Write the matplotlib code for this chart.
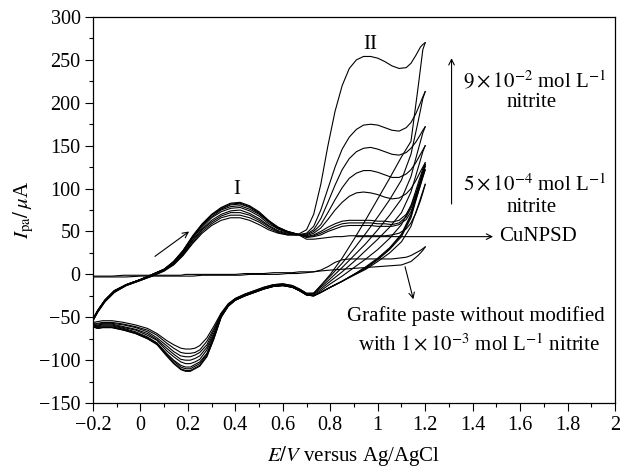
import matplotlib
matplotlib.use('Agg')
import matplotlib.pyplot as plt
from matplotlib.ticker import MultipleLocator, FuncFormatter

plt.rcParams['font.family'] = ['Liberation Serif', 'DejaVu Serif']
plt.rcParams['mathtext.fontset'] = 'stix'

# potential grids (V vs Ag/AgCl): forward scan -0.2 -> 1.2, reverse scan 1.2 -> -0.2
E_FWD = [-0.20, -0.18, -0.15, -0.11, -0.06, 0.00, 0.05, 0.10, 0.14, 0.18, 0.22, 0.26, 0.30, 0.34,
         0.38, 0.42, 0.46, 0.50, 0.54, 0.58, 0.62, 0.66,
         0.70, 0.73, 0.76, 0.79, 0.82, 0.85, 0.88, 0.91, 0.94, 0.97, 1.00, 1.03, 1.06, 1.09,
         1.12, 1.14, 1.16, 1.18, 1.19, 1.20]
E_REV = [1.20, 1.19, 1.17, 1.14, 1.10, 1.05, 1.00, 0.95, 0.90, 0.85, 0.80, 0.76, 0.73,
         0.70, 0.67, 0.64, 0.60, 0.56, 0.52, 0.48, 0.44, 0.40, 0.37, 0.34, 0.31, 0.28, 0.25,
         0.23, 0.21, 0.19, 0.17, 0.14, 0.11, 0.07, 0.03, -0.02, -0.07, -0.12, -0.16, -0.18, -0.20]

# CuNPSD electrode, no nitrite
cunpsd_fwd = [-52, -42, -30, -19, -12, -6, 0, 6, 15, 28, 45, 59, 70, 78, 83, 84, 80, 73, 63, 55, 50, 47,
              41, 41, 42, 43, 44, 44, 45, 45, 45, 45, 45, 45, 46, 48, 53, 60, 71, 86, 95, 105]
cunpsd_rev = [105, 97, 80, 56, 38, 25, 15, 6, -1, -8, -15, -21, -25,
              -24, -19, -15, -13, -14, -17, -21, -25, -30, -37, -49, -73, -93, -104, -107,
              -110, -110, -108, -101, -93, -80, -74, -68, -64, -61, -61, -62, -60]

# CuNPSD + nitrite, increasing concentration (5e-4 ... 9e-2 mol/L)
nit1_fwd = [-52, -42, -30, -19, -12, -6, 0, 6, 15, 27, 44, 58, 69, 76, 81, 82, 78, 71, 62, 54, 50, 47,
            43, 44, 46, 50, 53, 56, 57, 57, 57, 57, 56, 56, 56, 58, 64, 73, 87, 104, 113, 122]
nit1_rev = [122, 114, 95, 66, 44, 29, 17, 7, 0, -8, -15, -21, -25,
            -24, -19, -15, -13, -14, -17, -21, -25, -30, -37, -50, -75, -96, -107, -110,
            -113, -113, -111, -104, -95, -82, -75, -69, -65, -62, -62, -63, -61]

nit2_fwd = [-52, -42, -30, -19, -12, -6, 0, 6, 15, 28, 44, 58, 69, 77, 82, 83, 79, 72, 62, 55, 50, 47,
            44, 45, 48, 52, 56, 59, 60, 60, 60, 60, 59, 59, 58, 60, 67, 77, 91, 108, 117, 126]
nit2_rev = [126, 118, 99, 68, 46, 30, 18, 8, 0, -8, -15, -21, -25,
            -24, -19, -15, -13, -14, -17, -21, -25, -30, -37, -50, -74, -95, -106, -109,
            -112, -112, -110, -103, -94, -81, -75, -69, -65, -62, -62, -63, -61]

nit3_fwd = [-52, -42, -30, -19, -12, -6, 0, 6, 14, 27, 43, 57, 67, 75, 79, 80, 76, 70, 61, 53, 49, 47,
            44, 46, 50, 55, 59, 62, 63, 63, 63, 63, 62, 62, 61, 63, 70, 80, 94, 110, 119, 128]
nit3_rev = [128, 120, 101, 70, 47, 31, 19, 9, 0, -8, -15, -21, -25,
            -24, -19, -15, -13, -14, -17, -21, -25, -30, -36, -49, -72, -92, -102, -105,
            -108, -108, -106, -100, -92, -80, -73, -67, -63, -60, -60, -61, -60]

nit4_fwd = [-53, -43, -31, -20, -12, -6, -1, 5, 14, 26, 42, 55, 66, 73, 77, 78, 74, 68, 59, 53, 49, 47,
            45, 48, 54, 64, 75, 84, 91, 95, 96, 95, 93, 90, 88, 89, 94, 100, 109, 120, 125, 130]
nit4_rev = [130, 123, 106, 80, 58, 42, 29, 18, 8, -2, -11, -19, -24,
            -23, -18, -14, -12, -13, -16, -20, -24, -29, -36, -48, -70, -88, -99, -102,
            -104, -104, -102, -96, -89, -77, -71, -65, -62, -59, -59, -60, -59]

nit5_fwd = [-53, -43, -31, -20, -12, -6, -1, 5, 13, 25, 40, 53, 63, 70, 74, 75, 71, 65, 57, 51, 48, 46,
            46, 50, 58, 72, 87, 101, 112, 118, 121, 121, 119, 116, 113, 113, 117, 122, 130, 140, 145, 150]
nit5_rev = [150, 143, 124, 96, 72, 55, 41, 28, 15, 3, -8, -17, -23,
            -23, -18, -14, -12, -13, -16, -20, -24, -29, -36, -48, -68, -85, -95, -98,
            -100, -100, -99, -93, -86, -76, -69, -64, -61, -58, -58, -59, -59]

nit6_fwd = [-53, -43, -31, -20, -13, -7, -1, 5, 12, 24, 39, 52, 61, 68, 72, 72, 69, 63, 56, 50, 47, 46,
            47, 52, 65, 84, 104, 122, 135, 143, 147, 148, 146, 143, 140, 139, 142, 147, 154, 163, 168, 172]
nit6_rev = [172, 165, 145, 114, 88, 69, 52, 36, 22, 8, -5, -15, -22,
            -23, -18, -14, -12, -13, -16, -20, -24, -29, -35, -47, -65, -82, -91, -94,
            -96, -96, -95, -90, -83, -74, -67, -62, -59, -57, -57, -58, -58]

nit7_fwd = [-54, -44, -32, -21, -13, -7, -2, 4, 12, 23, 37, 50, 59, 66, 69, 69, 66, 61, 54, 49, 46, 46,
            48, 56, 75, 100, 125, 146, 160, 169, 174, 175, 174, 171, 168, 167, 171, 177, 187, 200, 207, 213]
nit7_rev = [213, 205, 178, 140, 110, 87, 67, 48, 30, 13, -2, -13, -22,
            -22, -17, -13, -11, -12, -15, -19, -23, -28, -35, -46, -63, -78, -88, -91,
            -92, -92, -91, -86, -80, -71, -65, -61, -58, -56, -56, -57, -57]

nit8_fwd = [-54, -44, -32, -21, -13, -7, -2, 4, 11, 22, 36, 48, 57, 63, 66, 66, 63, 58, 52, 48, 46, 46,
            52, 70, 105, 150, 190, 220, 240, 250, 254, 254, 252, 248, 243, 240, 241, 246, 255, 265, 268, 270]
nit8_rev = [270, 262, 218, 155, 137, 112, 88, 64, 41, 19, 0, -13, -22,
            -22, -17, -13, -11, -12, -15, -19, -23, -28, -34, -45, -60, -74, -83, -86,
            -87, -87, -86, -82, -77, -69, -63, -59, -56, -54, -54, -55, -56]

# unmodified graphite paste with 1e-3 mol/L nitrite
graphite_fwd = [-3, -3, -3, -3, -3, -2, -2, -2, -2, -2, -2, -1, -1, -1, -1, -1, 0, 0, 0, 0, 1, 1,
                2, 3, 5, 9, 14, 17, 18, 18, 18, 18, 18, 18, 18, 19, 20, 22, 25, 28, 30, 32]
graphite_rev = [32, 28, 22, 15, 11, 10, 9, 8, 7, 6, 5, 4, 3,
                3, 3, 2, 2, 2, 1, 1, 1, 0, 0, 0, 0, 0, 0, 0,
                0, 0, -1, -1, -1, -1, -1, -1, -1, -2, -2, -2, -2]

curves = [(cunpsd_fwd, cunpsd_rev), (nit1_fwd, nit1_rev), (nit2_fwd, nit2_rev), (nit3_fwd, nit3_rev),
          (nit4_fwd, nit4_rev), (nit5_fwd, nit5_rev), (nit6_fwd, nit6_rev), (nit7_fwd, nit7_rev),
          (nit8_fwd, nit8_rev), (graphite_fwd, graphite_rev)]

X_TICKS = [-0.2, 0, 0.2, 0.4, 0.6, 0.8, 1, 1.2, 1.4, 1.6, 1.8, 2]
Y_TICKS = [-150, -100, -50, 0, 50, 100, 150, 200, 250, 300]

FS = 15

fig = plt.figure(figsize=(6.2, 4.72), dpi=100)
ax = fig.add_axes([0.150, 0.146, 0.842, 0.818])

for fwd, rev in curves:
    ax.plot(E_FWD, fwd, color='black', lw=0.8)
    ax.plot(E_REV, rev, color='black', lw=0.8)

ax.set_xlim(-0.2, 2)
ax.set_ylim(-150, 300)
ax.set_xticks(X_TICKS)
ax.set_yticks(Y_TICKS)
ax.xaxis.set_minor_locator(MultipleLocator(0.1))
ax.yaxis.set_minor_locator(MultipleLocator(25))
ax.xaxis.set_major_formatter(FuncFormatter(lambda v, p: ('%g' % round(v, 2)).replace('-', '\u2212')))
ax.yaxis.set_major_formatter(FuncFormatter(lambda v, p: ('%g' % v).replace('-', '\u2212')))
ax.tick_params(which='major', length=5.5, width=0.8, direction='out', labelsize=14.5)
ax.tick_params(which='minor', length=3, width=0.8, direction='out')
for s in ax.spines.values():
    s.set_linewidth(0.9)

ax.set_xlabel('$E/V$ versus Ag/AgCl', fontsize=FS, labelpad=7)
ax.set_ylabel(r'$I_{\mathrm{pa}}/\,\mu$A', fontsize=FS, labelpad=2)

arrow = dict(arrowstyle='->', lw=0.8, color='black', shrinkA=0, shrinkB=0)
ax.annotate('', xy=(0.205, 50), xytext=(0.061, 21), arrowprops=arrow)
ax.annotate('', xy=(1.311, 252), xytext=(1.311, 82), arrowprops=arrow)
ax.annotate('', xy=(1.486, 44), xytext=(0.91, 44), arrowprops=arrow)
ax.annotate('', xy=(1.15, -29), xytext=(1.115, 9), arrowprops=arrow)

ax.text(0.406, 99, 'I', ha='center', va='center', fontsize=FS)
ax.text(0.967, 268, 'II', ha='center', va='center', fontsize=FS)
ax.text(1.66, 225, r'$9\times10^{-2}$ mol L$^{-1}$', ha='center', va='center', fontsize=FS)
ax.text(1.65, 200, 'nitrite', ha='center', va='center', fontsize=FS)
ax.text(1.66, 105, r'$5\times10^{-4}$ mol L$^{-1}$', ha='center', va='center', fontsize=FS)
ax.text(1.65, 78, 'nitrite', ha='center', va='center', fontsize=FS)
ax.text(1.51, 44, 'CuNPSD', ha='left', va='center', fontsize=FS)
ax.text(1.414, -49, 'Grafite paste without modified', ha='center', va='center', fontsize=FS)
ax.text(1.427, -82, r'with $1\times10^{-3}$ mol L$^{-1}$ nitrite', ha='center', va='center', fontsize=FS)

fig.savefig('out.png', dpi=100)
